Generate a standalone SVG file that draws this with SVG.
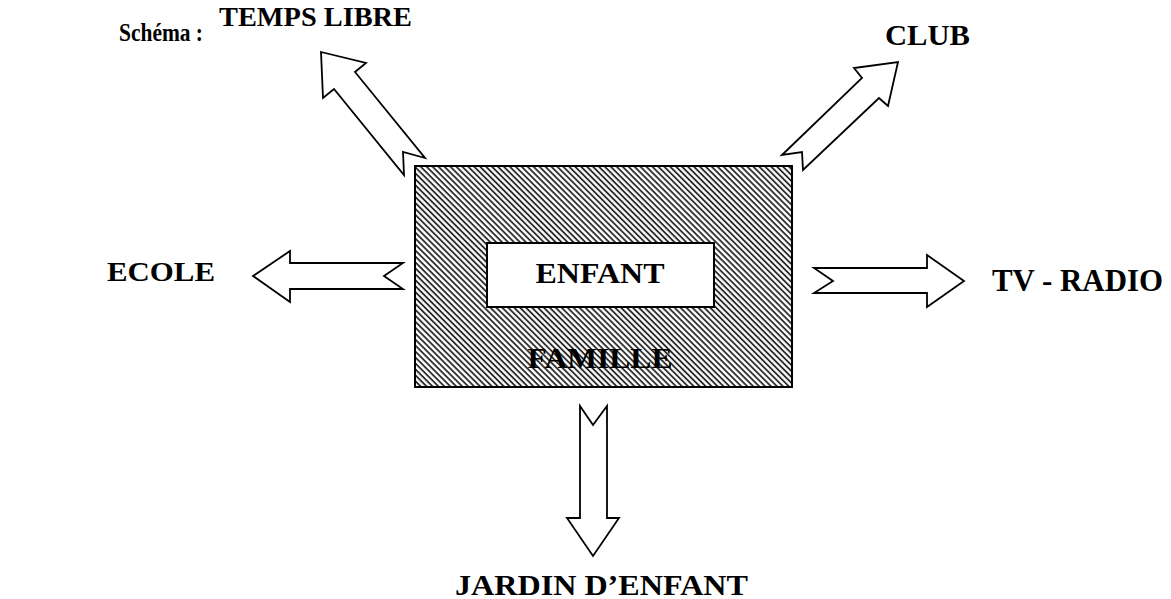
<svg xmlns="http://www.w3.org/2000/svg" width="1171" height="599" viewBox="0 0 1171 599">
<style>
.lbl{font-family:"Liberation Serif","Times New Roman",serif;font-weight:bold;fill:#000;}
.arrow{fill:#fff;stroke:#000;stroke-width:1.8;stroke-linejoin:miter;}
</style>
<defs>
<pattern id="hatch" patternUnits="userSpaceOnUse" width="4.2" height="4.2" patternTransform="rotate(45)">
<rect width="4.2" height="4.2" fill="#fff"/>
<line x1="0" y1="1" x2="4.2" y2="1" stroke="#1a1a1a" stroke-width="1.7"/>
</pattern>
</defs>
<rect width="1171" height="599" fill="#fff"/>
<text class="lbl" x="119" y="41" font-size="25" textLength="84" lengthAdjust="spacingAndGlyphs">Schéma :</text>
<g id="connectors">
<polygon class="arrow" points="321,52 366,63 355,72 425,158 403,152 404,175 334,89 323,98"/>
<polygon class="arrow" points="898,62 888,106 879,98 803,170 802,152 782,155 862,78 854,68"/>
<polygon class="arrow" points="253,276 290,251 290,263 403,263 384,276 403,289 290,289 290,302"/>
<polygon class="arrow" points="814,268 927,268 927,255 964,281 927,307 927,293 814,293 833,281"/>
<polygon class="arrow" points="580,406 593,425 607,406 607,518 619,518 593,556 567,518 580,518"/>
</g>
<g id="famille">
<rect x="415" y="166" width="377" height="221" fill="url(#hatch)" stroke="#000" stroke-width="2"/>
<text class="lbl" x="600" y="368" font-size="30" text-anchor="middle" textLength="145" lengthAdjust="spacingAndGlyphs">FAMILLE</text>
</g>
<g id="enfant">
<rect x="487" y="243" width="227" height="64" fill="#fff" stroke="#000" stroke-width="2"/>
<text class="lbl" x="600" y="283" font-size="30" text-anchor="middle" textLength="129" lengthAdjust="spacingAndGlyphs">ENFANT</text>
</g>
<g id="temps-libre">
<text class="lbl" x="219" y="26" font-size="28" textLength="193" lengthAdjust="spacingAndGlyphs">TEMPS LIBRE</text>
</g>
<g id="club">
<text class="lbl" x="885" y="45" font-size="30" textLength="85" lengthAdjust="spacingAndGlyphs">CLUB</text>
</g>
<g id="ecole">
<text class="lbl" x="107" y="281" font-size="28" textLength="108" lengthAdjust="spacingAndGlyphs">ECOLE</text>
</g>
<g id="tv-radio">
<text class="lbl" x="992" y="291" font-size="31" textLength="171" lengthAdjust="spacingAndGlyphs">TV - RADIO</text>
</g>
<g id="jardin">
<text class="lbl" x="455" y="595" font-size="30" textLength="293" lengthAdjust="spacingAndGlyphs">JARDIN D’ENFANT</text>
</g>
</svg>
